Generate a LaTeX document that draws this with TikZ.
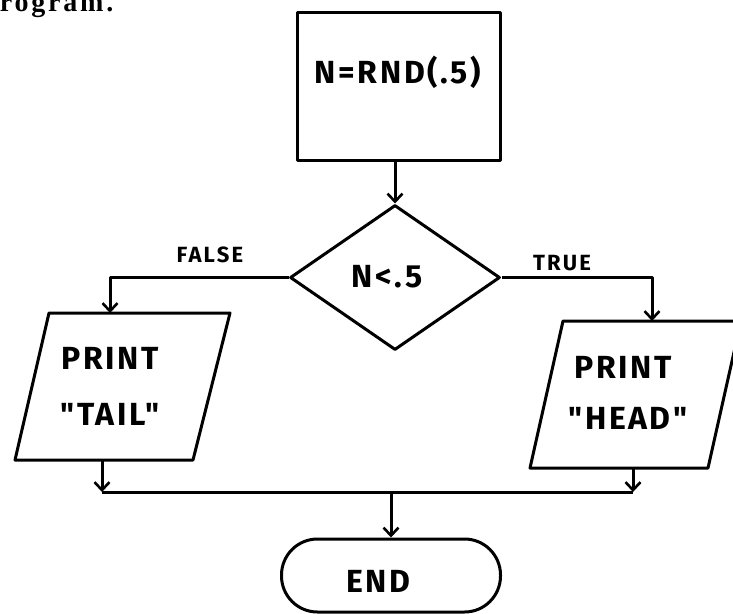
\documentclass[tikz,border=0pt]{standalone}
\usepackage{fontspec}
\setmainfont{Fira Sans}[Ligatures=TeXOff]
\newfontfamily\bookfont{Liberation Serif}
\usetikzlibrary{arrows.meta,shapes.geometric,calc}
\newcommand{\qq}{\symbol{34}}
\begin{document}
\begin{tikzpicture}[x=1pt,y=-1pt,
  line width=3pt, line join=round,
  flow/.style={-{Straight Barb[length=8pt,width=15pt,line width=2.6pt]}},
  hand/.style={font=\bfseries\fontsize{32}{34}\selectfont\addfontfeatures{LetterSpace=8}, inner sep=0pt},
  tag/.style={font=\bfseries\fontsize{22}{24}\selectfont\addfontfeatures{LetterSpace=10}, inner sep=0pt},
]
\useasboundingbox (0,0) rectangle (733,613);
\clip (0,0) rectangle (733,613);

% running text of the page above the chart
\node[anchor=base west, inner sep=0pt,
      font=\bookfont\bfseries\fontsize{28}{30}\selectfont\addfontfeatures{LetterSpace=10}]
  (caption) at (-20,12) {program.};

% assignment box
\node[draw, minimum width=203pt, minimum height=148pt, inner sep=0pt] (rnd) at (398.5,86) {};
\node[hand] (rndtext) at (398,72) {N=RND(.5)};

% decision
\node[draw, diamond, aspect=1.45, minimum width=210pt, minimum height=145pt, inner sep=0pt]
  (test) at (395,277.5) {};
\node[hand] (testtext) at (387,277) {N<.5};

% output on the FALSE branch
\draw (49,313) coordinate (tailNW) -- (230,313) coordinate (tailNE)
   -- (193,460) coordinate (tailSE) -- (15,460) coordinate (tailSW) -- cycle;
\node[hand] (tailp) at (110,358) {PRINT};
\node[hand] (tailq) at (110,414) {\qq TAIL\qq};

% output on the TRUE branch
\draw (563,321) coordinate (headNW) -- (741,321) coordinate (headNE)
   -- (708,468) coordinate (headSE) -- (530,468) coordinate (headSW) -- cycle;
\node[hand] (headp) at (623,367) {PRINT};
\node[hand] (headq) at (628,418) {\qq HEAD\qq};

% terminal
\node[draw, rectangle, rounded corners=36pt, minimum width=219pt, minimum height=73pt]
  (stop) at (391,575.5) {};
\node[hand] (stoptext) at (378,581) {END};

% branch labels
\node[tag] (flab) at (210,255) {FALSE};
\node[tag] (tlab) at (562,263) {TRUE};

% connector points
\coordinate (tailin) at (110,313);
\coordinate (headin) at (652,321);
\coordinate (tailout) at (102,460);
\coordinate (headout) at (633,468);
\coordinate (joinL) at (102,492);
\coordinate (joinR) at (633,492);

% connectors
\draw[flow] (rnd.south -| test.north) -- (test.north);
\draw[flow] (test.west) -| (tailin);
\draw[flow] (test.east) -| (headin);
\draw[flow] (tailout) -- (joinL);
\draw[flow] (headout) -- (joinR);
\draw (joinL) -- (joinR);
\draw[flow] (joinL -| stop.north) -- (stop.north);
\end{tikzpicture}
\end{document}
